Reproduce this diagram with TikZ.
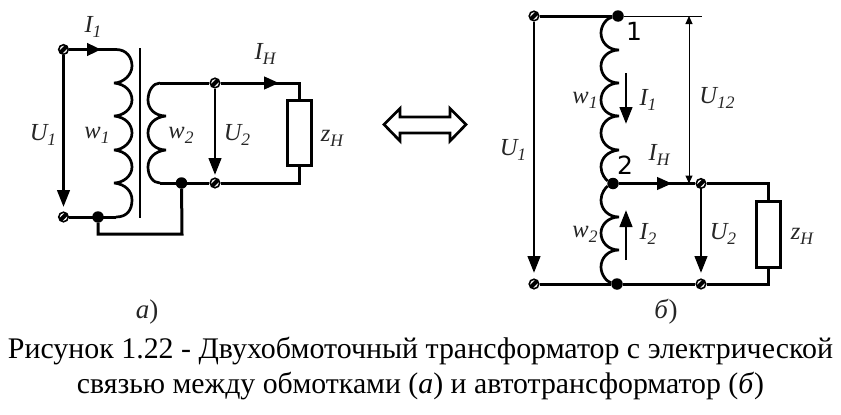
\documentclass[tikz,border=0pt]{standalone}
\usepackage{fontspec}
\usetikzlibrary{arrows.meta}
\setmainfont{Liberation Serif}
\newfontfamily\djv{DejaVu Sans}
\tikzset{
 x=1pt,y=-1pt,
 wire/.style={line width=3pt,line join=miter},
 coilw/.style={line width=2.7pt},
 terminal/.style={circle,draw,line width=1.6pt,fill=white,inner sep=0pt,minimum size=9.5pt,path picture={\draw[line width=4pt] (path picture bounding box.south west)--(path picture bounding box.north east);}},
 junction/.style={circle,fill=black,inner sep=0pt,minimum size=11.5pt},
 lbl/.style={font=\fontsize{24.5}{24.5}\selectfont\itshape,inner sep=0pt,text=black!85},
 loadbox/.style={draw,line width=3pt,minimum width=24pt,minimum height=65pt,inner sep=0pt},
 tri/.style={-{Triangle[length=17pt,width=12.5pt]},line width=2.8pt},
 thinarr/.style={{Triangle[length=8pt,width=7pt]}-{Triangle[length=8pt,width=7pt]},line width=1pt},
}
\newcommand{\labx}[2]{#1\raisebox{-5pt}{\fontsize{17.5}{17.5}\selectfont #2}}
\begin{document}
\begin{tikzpicture}
\useasboundingbox (0,0) rectangle (841,415);
% ---------- a)
\coordinate (p1) at (116,49.5);
\coordinate (p2) at (116,217);
\coordinate (s1) at (160,83);
\coordinate (s2) at (160,183);
\coordinate (c1) at (299,83);
\coordinate (c2) at (299,183);
\coordinate (k1) at (98,234);
\coordinate (k2) at (182,234);
\node[terminal] (ta) at (63.5,49.5) {};
\node[terminal] (tb) at (63.5,217) {};
\node[terminal] (tc) at (215,83) {};
\node[terminal] (td) at (215,183) {};
\node[junction] (ja) at (98,217) {};
\node[junction] (jb) at (181.5,183) {};
\draw[wire] (ta)--(p1);
\draw[wire] (tb)--(p2);
\draw[wire] (s1)--(tc);
\draw[wire] (s2)--(td);
\draw[coilw] (p1) .. controls (127,49.5) and (132,58) .. (132,66) .. controls (132,75) and (123,83) .. (114,83)
 (114,83) .. controls (125,84) and (132,91) .. (132,100) .. controls (132,109) and (123,116) .. (114,116)
 (114,116) .. controls (125,117) and (132,124) .. (132,133) .. controls (132,142) and (123,150) .. (114,150)
 (114,150) .. controls (125,151) and (132,158) .. (132,167) .. controls (132,176) and (123,183) .. (114,183)
 (114,183) .. controls (125,184) and (132,191) .. (132,200) .. controls (132,210) and (127,217) .. (p2);
\draw[line width=2.7pt] (140,48) coordinate (core1) -- (140,218) coordinate (core2);
\draw[coilw] (s1) .. controls (153,83) and (148,91) .. (148,100) .. controls (148,109) and (155,116) .. (166,116)
 (166,116) .. controls (155,117) and (148,124) .. (148,133) .. controls (148,142) and (155,150) .. (166,150)
 (166,150) .. controls (155,151) and (148,158) .. (148,167) .. controls (148,176) and (153,183) .. (s2);
\draw[wire] (ja)--(k1)--(k2)--(jb);
\node[loadbox] (ra) at (299,132.5) {};
\draw[wire] (tc)--(c1)--(ra.north);
\draw[wire] (td)--(c2)--(ra.south);
\draw[tri] (ta.south) -- (63.5,207);
\draw[tri] (tc.south) -- (215,175);
\draw[-{Triangle[length=14pt,width=12.5pt]},line width=2.8pt] (ta) -- (101,49.5);
\draw[-{Triangle[length=15pt,width=12.5pt]},line width=2.8pt] (tc) -- (279,83);
\node[lbl] at (93,27) {\labx{I}{1}};
\node[lbl] at (265,54) {\labx{I}{H}};
\node[lbl] at (43,135) {\labx{U}{1}};
\node[lbl] at (97,135) {\labx{w}{1}};
\node[lbl] at (181,135) {\labx{w}{2}};
\node[lbl] at (237,135) {\labx{U}{2}};
\node[lbl] at (332,138) {\labx{z}{H}};
\node[lbl,font=\fontsize{27}{27}\selectfont] at (147,312) {\textit{а})};
% ---------- double arrow
\draw[line width=2.7pt,line join=miter] (384,124.5)--(400,108.5)--(400,117)--(450,117)--(450,108.5)--(466,124.5)--(450,141)--(450,133)--(400,133)--(400,141)--cycle;
% ---------- b)
\node[terminal] (tA) at (534,16) {};
\node[terminal] (tB) at (534,284) {};
\node[terminal] (tC) at (701,183.5) {};
\node[terminal] (tD) at (701,284) {};
\node[junction] (j1) at (618,16) {};
\node[junction] (j2) at (613,183.5) {};
\node[junction] (j3) at (617,284) {};
\draw[wire] (tA)--(j1);
\draw[wire] (tB)--(j3)--(tD);
\draw[wire] (j2)--(tC);
\draw[coilw] (j1) .. controls (607,18) and (601,25) .. (601,33) .. controls (601,42) and (608,50) .. (619,50)
 (619,50) .. controls (608,50) and (601,58) .. (601,66) .. controls (601,75) and (608,83) .. (619,83)
 (619,83) .. controls (608,83) and (601,91) .. (601,100) .. controls (601,109) and (608,116) .. (619,116)
 (619,116) .. controls (608,116) and (601,124) .. (601,133) .. controls (601,142) and (608,150) .. (619,150)
 (619,150) .. controls (608,151) and (601,158) .. (601,167) .. controls (601,174) and (606,180) .. (j2)
 (j2) .. controls (606,187) and (601,193) .. (601,200) .. controls (601,209) and (608,217) .. (619,217)
 (619,217) .. controls (608,217) and (601,225) .. (601,233) .. controls (601,242) and (608,250) .. (619,250)
 (619,250) .. controls (608,250) and (601,258) .. (601,267) .. controls (601,275) and (607,282) .. (j3);
\coordinate (thinend) at (702,16);
\coordinate (u12a) at (689,16);
\coordinate (u12b) at (689,183.5);
\draw[line width=1pt] (j1)--(thinend);
\draw[thinarr] (u12a)--(u12b);
\coordinate (c3) at (768,183.5);
\coordinate (c4) at (768,284);
\node[loadbox,minimum height=66pt] (rb) at (768,234) {};
\draw[wire] (tC)--(c3)--(rb.north);
\draw[wire] (tD)--(c4)--(rb.south);
\draw[tri] (tA.south)--(534,273);
\draw[tri] (tC.south)--(701,273);
\coordinate (i1a) at (626,73);
\coordinate (i1b) at (626,124);
\coordinate (i2a) at (626,260);
\coordinate (i2b) at (626,210);
\draw[tri] (i1a)--(i1b);
\draw[tri] (i2a)--(i2b);
\draw[-{Triangle[length=15pt,width=12.5pt]},line width=2.8pt] (j2)--(672,183.5);
\node[lbl] at (513,150) {\labx{U}{1}};
\node[lbl] at (585,100) {\labx{w}{1}};
\node[lbl] at (648,100) {\labx{I}{1}};
\node[lbl] at (717,98) {\labx{U}{12}};
\node[lbl] at (659,155) {\labx{I}{H}};
\node[lbl] at (585,234) {\labx{w}{2}};
\node[lbl] at (648,234) {\labx{I}{2}};
\node[lbl] at (723,234) {\labx{U}{2}};
\node[lbl] at (802,236) {\labx{z}{H}};
\node[inner sep=0pt,font=\djv\fontsize{25}{25}\selectfont] at (634,31) {1};
\node[inner sep=0pt,font=\djv\fontsize{25}{25}\selectfont] at (625,165) {2};
\node[lbl,font=\fontsize{27}{27}\selectfont] at (666,312) {\textit{б})};
% ---------- caption
\node[inner sep=0pt,font=\fontsize{29.9}{29.9}\selectfont] at (420.5,351) {Рисунок 1.22 - Двухобмоточный трансформатор с электрической};
\node[inner sep=0pt,font=\fontsize{29.8}{29.8}\selectfont] at (420.5,386) {связью между обмотками (\textit{а}) и автотрансформатор (\textit{б})};
\end{tikzpicture}
\end{document}
